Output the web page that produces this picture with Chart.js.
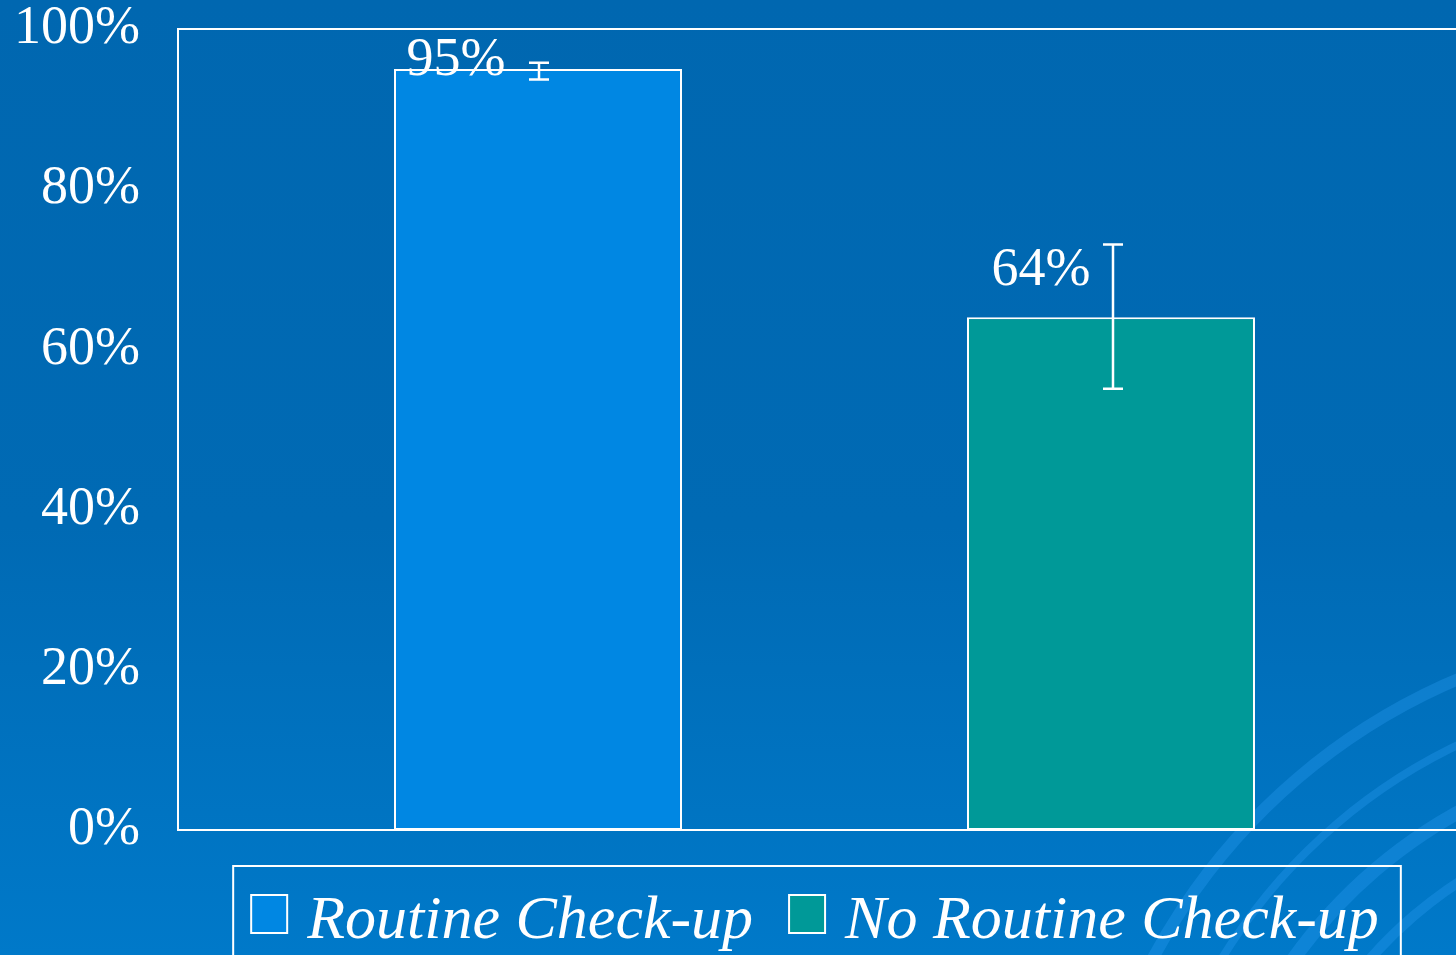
<!DOCTYPE html>
<html lang="en">
<head>
    <meta charset="UTF-8">
    <title>Routine Check-up</title>
    <script src="https://cdn.jsdelivr.net/npm/chart.js"></script>
    <style>
        html, body {
            margin: 0;
            padding: 0;
            width: 1456px;
            height: 955px;
            overflow: hidden;
            background: linear-gradient(to bottom, #0067b0 0%, #006ab4 55%, #0079c9 100%);
        }
        .chart-box {
            position: relative;
            width: 1480px; /* plot runs off the right edge like the slide */
            height: 955px;
        }
    </style>
</head>
<body>
    <div class="chart-box">
        <canvas id="checkupChart"></canvas>
    </div>

    <script>
        // Data
        const categories = ['Check-up'];
        const seriesNames = ['Routine Check-up', 'No Routine Check-up'];
        const seriesValues = [95, 64];
        const errorLow = [93.7, 55.1];
        const errorHigh = [95.8, 73.1];
        const valueLabels = ['95%', '64%'];
        const yTickValues = [0, 20, 40, 60, 80, 100];

        const barColors = ['#0087e3', '#009998'];

        Chart.defaults.font.family = "'Liberation Serif', 'Times New Roman', serif";
        Chart.defaults.color = '#ffffff';

        // faint swirls in the lower right corner of the slide background
        const swirlPlugin = {
            id: 'swirl',
            beforeDraw(chart) {
                const ctx = chart.ctx;
                ctx.save();
                ctx.strokeStyle = 'rgba(40, 155, 240, 0.35)';
                const rings = [[440, 10], [500, 14], [560, 8], [620, 12]];
                rings.forEach(([r, w]) => {
                    ctx.lineWidth = w;
                    ctx.beginPath();
                    ctx.arc(1700, 1250, r, Math.PI * 1.1, Math.PI * 1.45);
                    ctx.stroke();
                });
                ctx.restore();
            }
        };

        // frame, error bars, value labels and boxed legend
        const decorPlugin = {
            id: 'decor',
            afterDatasetsDraw(chart, args, opts) {
                const ctx = chart.ctx;
                const area = chart.chartArea;
                const y = chart.scales.y;

                ctx.save();
                ctx.strokeStyle = '#ffffff';
                ctx.lineWidth = 2;
                ctx.beginPath();
                ctx.moveTo(chart.width, area.top);
                ctx.lineTo(area.left, area.top);
                ctx.lineTo(area.left, area.bottom);
                ctx.lineTo(chart.width, area.bottom);
                ctx.stroke();

                // error bars
                chart.data.datasets.forEach((ds, i) => {
                    const bar = chart.getDatasetMeta(i).data[0];
                    const x = bar.x + opts.errShift[i];
                    const yHi = y.getPixelForValue(errorHigh[i]);
                    const yLo = y.getPixelForValue(errorLow[i]);
                    const cap = opts.capWidth / 2;
                    ctx.lineWidth = 2.5;
                    ctx.beginPath();
                    ctx.moveTo(x, yHi); ctx.lineTo(x, yLo);
                    ctx.moveTo(x - cap, yHi); ctx.lineTo(x + cap, yHi);
                    ctx.moveTo(x - cap, yLo); ctx.lineTo(x + cap, yLo);
                    ctx.stroke();

                    // value label
                    ctx.fillStyle = '#ffffff';
                    ctx.font = "54px 'Liberation Serif'";
                    ctx.textAlign = 'center';
                    ctx.textBaseline = 'alphabetic';
                    const off = opts.labelOffsets[i];
                    ctx.fillText(valueLabels[i], bar.x + off.dx, bar.y + off.dy);
                });

                // legend
                ctx.font = "italic 62px 'Liberation Serif'";
                ctx.textAlign = 'left';
                const sw = 36, swGap = 20, itemGap = 36;
                const widths = seriesNames.map(n => ctx.measureText(n).width);
                let total = 0;
                widths.forEach((w, i) => { total += sw + swGap + w + (i ? itemGap : 0); });
                let lx = opts.legendCenter - total / 2;
                const top = opts.legendTop;
                ctx.lineWidth = 2;
                ctx.strokeRect(lx - 18, top, total + 40, 120);
                seriesNames.forEach((name, i) => {
                    ctx.fillStyle = barColors[i];
                    ctx.fillRect(lx, top + 29, sw, 38);
                    ctx.strokeRect(lx, top + 29, sw, 38);
                    ctx.fillStyle = '#ffffff';
                    ctx.fillText(name, lx + sw + swGap, top + 72);
                    lx += sw + swGap + widths[i] + itemGap;
                });
                ctx.restore();
            }
        };

        const ctx = document.getElementById('checkupChart').getContext('2d');
        const checkupChart = new Chart(ctx, {
            type: 'bar',
            data: {
                labels: categories,
                datasets: seriesNames.map((name, i) => ({
                    label: name,
                    data: [seriesValues[i]],
                    backgroundColor: barColors[i],
                    borderColor: '#ffffff',
                    borderWidth: 2,
                    borderSkipped: false,
                    categoryPercentage: 0.8863,
                    barPercentage: 0.5026
                }))
            },
            options: {
                responsive: true,
                maintainAspectRatio: false,
                animation: false,
                layout: {
                    padding: { top: 29, bottom: 125, right: 9, left: 0 }
                },
                scales: {
                    x: { display: false },
                    y: {
                        min: 0,
                        max: 100,
                        afterFit(scale) {
                            scale.width = 178;
                            scale.paddingTop = 0;
                            scale.paddingBottom = 0;
                        },
                        afterBuildTicks(scale) {
                            scale.ticks = yTickValues.map(v => ({ value: v }));
                        },
                        grid: { display: false, drawTicks: false },
                        border: { display: false },
                        ticks: {
                            padding: 38,
                            color: '#ffffff',
                            font: { size: 54 },
                            callback: v => v + '%'
                        }
                    }
                },
                plugins: {
                    legend: { display: false },
                    tooltip: { enabled: false },
                    decor: {
                        errShift: [1, 2],
                        capWidth: 20,
                        labelOffsets: [{ dx: -82, dy: 6 }, { dx: -70, dy: -32 }],
                        legendCenter: 815,
                        legendTop: 866
                    }
                }
            },
            plugins: [swirlPlugin, decorPlugin]
        });
    </script>
</body>
</html>
